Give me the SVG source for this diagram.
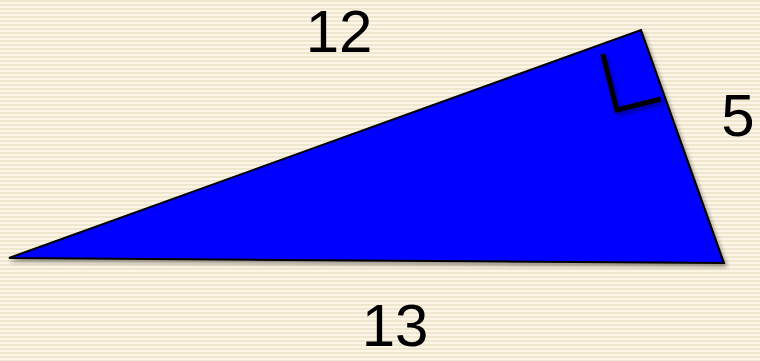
<svg xmlns="http://www.w3.org/2000/svg" width="760" height="361" viewBox="0 0 760 361">
<defs>
<pattern id="bg" width="8" height="4" patternUnits="userSpaceOnUse">
<rect width="8" height="4" fill="#fdf6e6"/>
<rect y="0" width="8" height="2" fill="#efe6d0"/>
</pattern>
<filter id="sh" x="-10%" y="-10%" width="120%" height="130%">
<feGaussianBlur in="SourceAlpha" stdDeviation="2"/>
<feOffset dx="2" dy="3" result="b"/>
<feComponentTransfer><feFuncA type="linear" slope="0.4"/></feComponentTransfer>
<feMerge><feMergeNode/><feMergeNode in="SourceGraphic"/></feMerge>
</filter>
<style>
.lbl{font-family:"Liberation Sans",Arial,sans-serif;font-size:60px;fill:#000;text-anchor:middle}
</style>
</defs>
<rect width="760" height="361" fill="url(#bg)"/>
<g id="triangle" filter="url(#sh)">
<polygon points="9,258 641,30 724,263" fill="#0000ff" stroke="#000" stroke-width="2" stroke-linejoin="miter"/>
</g>
<g id="right-angle" filter="url(#sh)">
<polyline points="603,54 617,110 661,99" fill="none" stroke="#000" stroke-width="5"/>
</g>
<g id="labels">
<text class="lbl" x="339" y="52">12</text>
<text class="lbl" x="738" y="136">5</text>
<text class="lbl" x="395" y="346">13</text>
</g>
</svg>
